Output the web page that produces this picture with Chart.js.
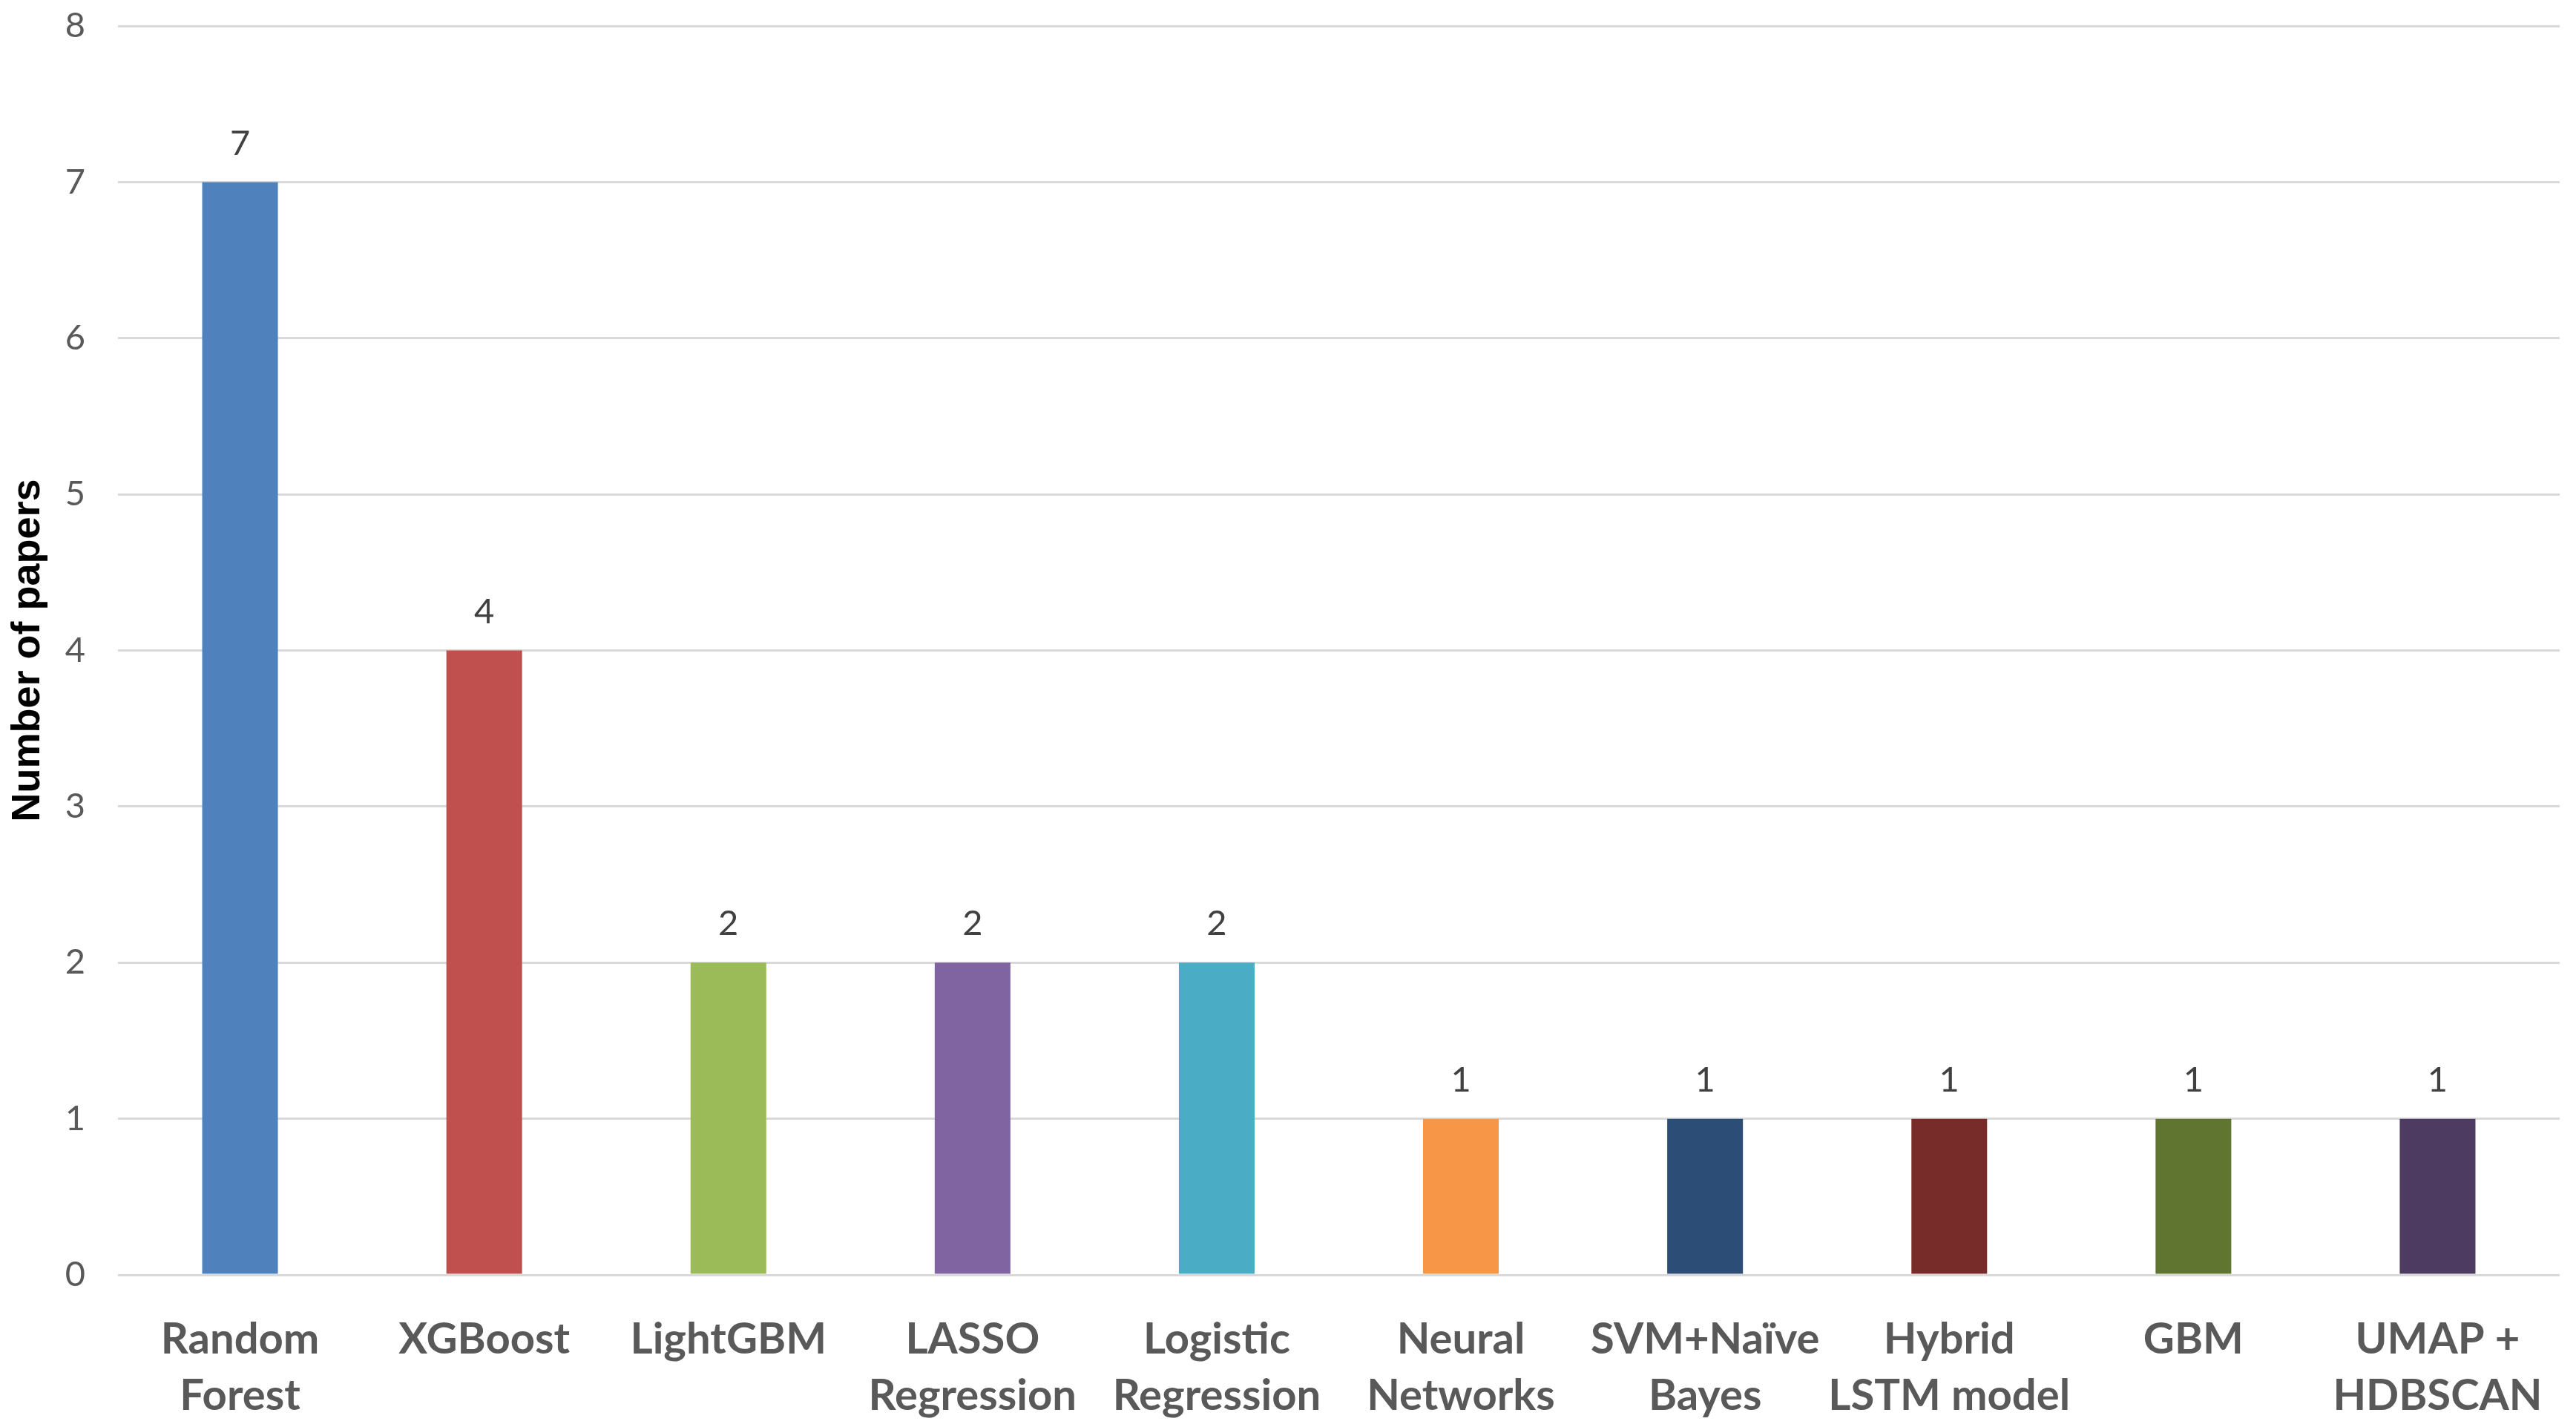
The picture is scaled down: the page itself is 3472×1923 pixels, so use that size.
<!DOCTYPE html>
<html>
<head>
<meta charset="utf-8">
<script src="https://cdn.jsdelivr.net/npm/chart.js@4"></script>
<style>
  html, body { margin: 0; padding: 0; background: #fff; }
  #wrap { width: 3472px; height: 1923px; }
</style>
</head>
<body>
<div id="wrap"><canvas id="myChart" width="3472" height="1923"></canvas></div>
<script>
// categories (multi-line tick labels)
var methodLabels = [
  ['Random', 'Forest'],
  'XGBoost',
  'LightGBM',
  ['LASSO', 'Regression'],
  ['Logistic', 'Regression'],
  ['Neural', 'Networks'],
  ['SVM+Naïve', 'Bayes'],
  ['Hybrid', 'LSTM model'],
  'GBM',
  ['UMAP +', 'HDBSCAN']
];
var paperCounts = [7, 4, 2, 2, 2, 1, 1, 1, 1, 1];
var barColors = ['#4F81BD', '#C0504D', '#9BBB59', '#8064A2', '#4BACC6',
                 '#F79646', '#2C4D75', '#772C2A', '#5F7530', '#4D3B62'];
var yTicks = [0, 1, 2, 3, 4, 5, 6, 7, 8];

// value labels above each bar
const valueLabels = {
  id: 'valueLabels',
  afterDatasetsDraw: function (chart) {
    var ctx = chart.ctx;
    ctx.save();
    ctx.font = '47px Lato';
    ctx.fillStyle = '#404040';
    ctx.textAlign = 'center';
    ctx.textBaseline = 'middle';
    chart.getDatasetMeta(0).data.forEach(function (bar, i) {
      ctx.fillText(paperCounts[i], bar.x, bar.y - 52);
    });
    ctx.restore();
  }
};

const data = {
  labels: methodLabels,
  datasets: [{
    data: paperCounts,
    backgroundColor: barColors,
    borderWidth: 0,
    barPercentage: 0.31,
    categoryPercentage: 1.0
  }]
};

const config = {
  type: 'bar',
  data: data,
  plugins: [valueLabels],
  options: {
    responsive: false,
    animation: false,
    devicePixelRatio: 1,
    layout: { padding: { top: 0, right: 22, left: 0, bottom: 0 } },
    plugins: {
      legend: { display: false },
      tooltip: { enabled: false }
    },
    scales: {
      x: {
        grid: { display: false },
        border: { display: false },
        ticks: {
          autoSkip: false,
          maxRotation: 0,
          minRotation: 0,
          padding: 42,
          color: '#595959',
          font: { family: 'Lato', size: 58, weight: 'bold', lineHeight: 1.3 }
        },
        afterFit: function (scale) { scale.height = 205; }
      },
      y: {
        min: 0,
        max: 8,
        afterBuildTicks: function (scale) {
          scale.ticks = yTicks.map(function (v) { return { value: v }; });
        },
        grid: { color: '#D9D9D9', lineWidth: 3, drawTicks: false },
        border: { display: false },
        ticks: {
          padding: 44,
          color: '#595959',
          font: { family: 'Lato', size: 47 }
        },
        title: {
          display: true,
          text: 'Number of papers',
          color: '#000000',
          padding: { top: 6, bottom: 0 },
          font: { family: 'Liberation Sans', size: 54, weight: 'bold', lineHeight: 1.2 }
        },
        afterFit: function (scale) {
          scale.width = 159;
          scale.paddingTop = 35;
          scale.paddingBottom = 0;
        }
      }
    }
  }
};

const myChart = new Chart(document.getElementById('myChart'), config);
</script>
</body>
</html>
